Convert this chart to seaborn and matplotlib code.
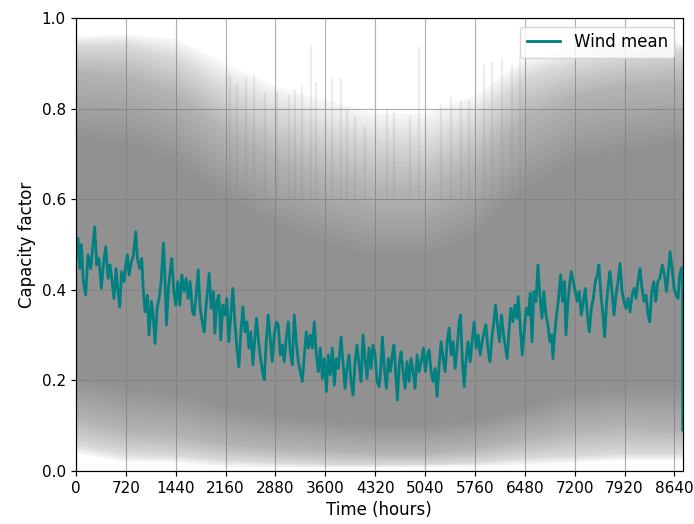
import matplotlib
matplotlib.use("Agg")
import matplotlib.pyplot as plt
import seaborn as sns
import pandas as pd
import numpy as np

# Hourly mean wind capacity factor over the year
mean_hours = [
    0, 29, 53, 77, 106, 140, 173, 212, 241, 270,
    299, 332, 366, 395, 429, 463, 492, 521, 549, 578,
    607, 631, 660, 694, 718, 742, 766, 800, 829, 863,
    887, 920, 949, 973, 998, 1031, 1055, 1089, 1113, 1142,
    1171, 1200, 1229, 1263, 1287, 1306, 1335, 1359, 1383, 1412,
    1441, 1470, 1499, 1528, 1561, 1590, 1619, 1648, 1682, 1706,
    1735, 1764, 1793, 1822, 1851, 1879, 1923, 1952, 1985, 2005,
    2034, 2063, 2091, 2120, 2149, 2178,
    2207, 2236, 2265, 2294, 2323, 2352, 2381, 2410, 2439, 2468,
    2497, 2525, 2554, 2583, 2607, 2636, 2665, 2694, 2718, 2747,
    2776, 2805, 2834, 2863, 2892, 2921, 2950, 2979, 3007, 3036,
    3065, 3094, 3123, 3152, 3181, 3210, 3239, 3268, 3297, 3325,
    3354, 3383, 3412, 3441, 3470, 3499, 3528, 3557, 3586, 3615,
    3643, 3672, 3701, 3730, 3759, 3788, 3827, 3855, 3884, 3913,
    3942, 3971, 4000, 4029, 4058, 4087, 4116, 4145, 4173, 4202,
    4231, 4260, 4289, 4318, 4347, 4376,
    4395, 4424, 4453, 4482, 4511, 4539, 4568, 4592, 4617, 4641,
    4670, 4694, 4723, 4752, 4780, 4809, 4838, 4867, 4896, 4925,
    4954, 4983, 5017, 5045, 5074, 5099, 5127, 5156, 5185, 5214,
    5243, 5272, 5301, 5330, 5359, 5388, 5417, 5445, 5474, 5503,
    5532, 5551, 5580, 5605, 5633, 5662, 5691, 5720, 5749, 5778,
    5807, 5836, 5865, 5894, 5918, 5947, 5976, 6005, 6033, 6057,
    6086, 6115, 6144, 6173, 6202, 6226, 6255, 6279, 6308, 6337,
    6366, 6385, 6414, 6443, 6472, 6501, 6530, 6559,
    6583, 6612, 6641, 6670, 6698, 6727, 6756, 6785, 6814, 6843,
    6867, 6886, 6910, 6939, 6968, 6997, 7026, 7055, 7074, 7103,
    7132, 7151, 7180, 7209, 7238, 7267, 7296, 7325, 7354, 7383,
    7412, 7441, 7470, 7498, 7527, 7551, 7580, 7609, 7633, 7662,
    7691, 7710, 7739, 7768, 7797, 7826, 7855, 7884, 7913, 7942,
    7971, 8000, 8029, 8058, 8086, 8115, 8144, 8173, 8202, 8231,
    8260, 8284, 8313, 8342, 8371, 8400, 8429, 8467, 8496, 8525,
    8554, 8578, 8607, 8636, 8665, 8693, 8718, 8742, 8758, 8760,
]
mean_cf = [
    0.47, 0.514, 0.447, 0.50, 0.418, 0.388, 0.477, 0.447, 0.492, 0.539,
    0.455, 0.469, 0.403, 0.455, 0.495, 0.425, 0.455, 0.418, 0.381, 0.447,
    0.396, 0.362, 0.440, 0.418, 0.455, 0.477, 0.433, 0.462, 0.477, 0.528,
    0.469, 0.447, 0.469, 0.396, 0.351, 0.388, 0.300, 0.374, 0.344, 0.281,
    0.359, 0.381, 0.418, 0.503, 0.418, 0.322, 0.403, 0.440, 0.469, 0.396,
    0.366, 0.418, 0.366, 0.433, 0.396, 0.425, 0.381, 0.418, 0.351, 0.344,
    0.388, 0.444, 0.359, 0.329, 0.307, 0.366, 0.436, 0.359, 0.396, 0.304,
    0.374, 0.388, 0.289, 0.366, 0.344, 0.381,
    0.285, 0.344, 0.403, 0.329, 0.271, 0.230, 0.307, 0.362, 0.307, 0.329,
    0.271, 0.307, 0.234, 0.293, 0.337, 0.285, 0.248, 0.219, 0.201, 0.285,
    0.344, 0.293, 0.241, 0.300, 0.329, 0.322, 0.256, 0.278, 0.241, 0.293,
    0.329, 0.263, 0.234, 0.344, 0.285, 0.241, 0.219, 0.197, 0.256, 0.307,
    0.271, 0.300, 0.271, 0.329, 0.256, 0.219, 0.271, 0.204, 0.248, 0.175,
    0.256, 0.212, 0.271, 0.189, 0.248, 0.226, 0.296, 0.241, 0.182, 0.226,
    0.256, 0.197, 0.167, 0.241, 0.278, 0.234, 0.197, 0.300, 0.248, 0.204,
    0.271, 0.226, 0.278, 0.256, 0.197, 0.186,
    0.212, 0.296, 0.226, 0.182, 0.248, 0.219, 0.256, 0.278, 0.212, 0.156,
    0.241, 0.263, 0.219, 0.182, 0.241, 0.197, 0.248, 0.219, 0.182, 0.256,
    0.219, 0.241, 0.271, 0.219, 0.256, 0.267, 0.219, 0.197, 0.226, 0.164,
    0.234, 0.285, 0.248, 0.219, 0.285, 0.315, 0.256, 0.285, 0.226, 0.271,
    0.329, 0.344, 0.241, 0.186, 0.248, 0.285, 0.241, 0.285, 0.329, 0.271,
    0.300, 0.256, 0.285, 0.307, 0.322, 0.271, 0.241, 0.293, 0.329, 0.366,
    0.322, 0.285, 0.344, 0.300, 0.271, 0.248, 0.315, 0.359, 0.329, 0.366,
    0.337, 0.385, 0.322, 0.256, 0.307, 0.359, 0.344, 0.392,
    0.285, 0.396, 0.374, 0.455, 0.388, 0.337, 0.396, 0.344, 0.322, 0.285,
    0.300, 0.248, 0.300, 0.344, 0.381, 0.433, 0.374, 0.418, 0.300, 0.374,
    0.418, 0.440, 0.418, 0.396, 0.374, 0.396, 0.344, 0.374, 0.403, 0.344,
    0.307, 0.359, 0.381, 0.418, 0.433, 0.455, 0.388, 0.344, 0.296, 0.374,
    0.418, 0.440, 0.396, 0.344, 0.388, 0.418, 0.458, 0.396, 0.374, 0.359,
    0.381, 0.351, 0.388, 0.403, 0.381, 0.418, 0.447, 0.403, 0.374, 0.388,
    0.344, 0.329, 0.396, 0.418, 0.374, 0.418, 0.425, 0.455, 0.433, 0.396,
    0.440, 0.484, 0.447, 0.403, 0.388, 0.381, 0.433, 0.447, 0.45, 0.09,
]

# Spread of the individual yearly series (envelopes at monthly steps)
band_hours = [0, 720, 1440, 2160, 2880, 3600, 4320, 5040, 5760, 6480, 7200, 7920, 8640, 8760]
upper_max = [0.96, 0.965, 0.955, 0.90, 0.85, 0.82, 0.79, 0.79, 0.83, 0.91, 0.94, 0.95, 0.95, 0.94]
upper_light = [0.94, 0.94, 0.91, 0.84, 0.79, 0.75, 0.73, 0.72, 0.77, 0.87, 0.90, 0.92, 0.93, 0.93]
upper_mid = [0.88, 0.87, 0.83, 0.75, 0.69, 0.65, 0.62, 0.62, 0.67, 0.78, 0.83, 0.85, 0.86, 0.86]
upper_core = [0.74, 0.73, 0.69, 0.61, 0.55, 0.51, 0.48, 0.48, 0.53, 0.63, 0.69, 0.71, 0.73, 0.73]
lower_core = [0.20, 0.18, 0.17, 0.14, 0.12, 0.11, 0.10, 0.10, 0.11, 0.14, 0.17, 0.18, 0.18, 0.18]
lower_mid = [0.12, 0.09, 0.08, 0.06, 0.05, 0.045, 0.04, 0.04, 0.05, 0.07, 0.09, 0.10, 0.09, 0.09]
lower_light = [0.06, 0.04, 0.035, 0.025, 0.02, 0.015, 0.015, 0.015, 0.02, 0.03, 0.035, 0.04, 0.04, 0.04]
lower_min = [0.04, 0.02, 0.02, 0.01, 0.008, 0.008, 0.008, 0.01, 0.01, 0.015, 0.02, 0.025, 0.025, 0.025]

# Isolated high-wind hours that stick out above the spring/summer spread
spike_hours = [2225, 2327, 2451, 2564, 2733, 2903, 3072, 3157, 3270, 3400,
               3467, 3693, 3823, 3919, 4032, 4173, 4484, 4597, 4823, 4947,
               5274, 5416, 5557, 5670, 5895, 6009, 6150, 6291, 6404]
spike_tops = [0.874, 0.852, 0.867, 0.874, 0.837, 0.837, 0.830, 0.844, 0.852, 0.941,
              0.859, 0.870, 0.867, 0.800, 0.785, 0.763, 0.800, 0.793, 0.785, 0.937,
              0.811, 0.826, 0.819, 0.819, 0.896, 0.904, 0.911, 0.896, 0.919]

# Cumulative opacity of the overlapping grey traces at each envelope
opacity_levels = [0.07, 0.28, 0.56, 0.84]

x_ticks = list(range(0, 8641, 720))
y_ticks = [0.0, 0.2, 0.4, 0.6, 0.8, 1.0]

plt.rcParams["font.family"] = "DejaVu Sans"
plt.rcParams["axes.linewidth"] = 0.86

fig = plt.figure(figsize=(6.94, 5.24), dpi=100)
ax = fig.add_axes([0.1095, 0.1017, 0.8742, 0.8634])
ax.set_axisbelow(True)
ax.grid(True, color="#b0b0b0", linewidth=0.86)

# Nested grey bands, softened with sub-steps between neighbouring envelopes
lowers = [np.array(a) for a in (lower_min, lower_light, lower_mid, lower_core)]
uppers = [np.array(a) for a in (upper_max, upper_light, upper_mid, upper_core)]
steps = 8
prev_a = 0.0
for k in range(len(lowers)):
    if k == 0:
        subs = [(lowers[0], uppers[0], opacity_levels[0])]
    else:
        subs = []
        for i in range(1, steps + 1):
            t = i / steps
            lo = lowers[k - 1] * (1 - t) + lowers[k] * t
            hi = uppers[k - 1] * (1 - t) + uppers[k] * t
            a = opacity_levels[k - 1] * (1 - t) + opacity_levels[k] * t
            subs.append((lo, hi, a))
    for lo, hi, a in subs:
        layer_alpha = 1 - (1 - a) / (1 - prev_a)
        ax.fill_between(band_hours, lo, hi, color="grey", alpha=layer_alpha, linewidth=0)
        prev_a = a

ax.vlines(spike_hours, 0.6, spike_tops, color="grey", alpha=0.14, linewidth=1.6)

df = pd.DataFrame({"hour": mean_hours, "cf": mean_cf})
sns.lineplot(data=df, x="hour", y="cf", color="teal", linewidth=2.0,
             label="Wind mean", ax=ax, sort=False)

ax.set_xlim(0, 8760)
ax.set_ylim(0, 1)
ax.set_xticks(x_ticks)
ax.set_yticks(y_ticks)
ax.set_yticklabels([f"{v:.1f}" for v in y_ticks])
ax.tick_params(length=3.8, width=0.86, labelsize=11)
ax.set_xlabel("Time (hours)", fontsize=12)
ax.set_ylabel("Capacity factor", fontsize=12)
ax.legend(loc="upper right", fontsize=12)

fig.savefig("out.png", dpi=100)
